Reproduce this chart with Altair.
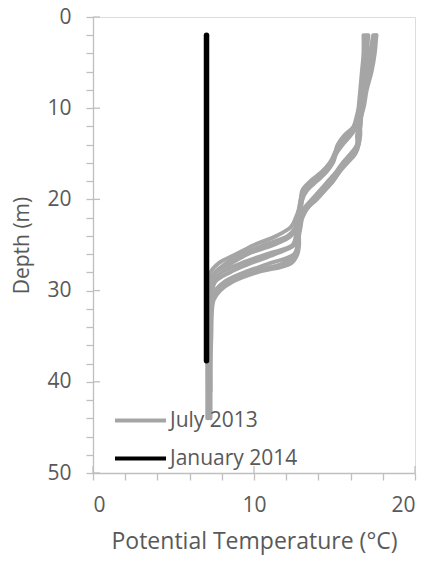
import altair as alt
import pandas as pd

# Depths (m) shared by the July 2013 profiles
depths = [2, 4, 6, 8, 10, 12, 13, 14, 15, 16, 17, 18, 19, 20, 21, 22, 23, 24, 25, 26,
          27, 28, 29, 30, 31, 32, 35, 38, 41, 44]

# July 2013 potential temperature profiles (°C); None = no data at that depth
july_1 = [17.6, 17.4, 17.2, 16.9, 16.6, 16.2, 15.6, 15.2, 15.0, 14.7, 14.2, 13.5, 13.0, 12.9, 12.8,
          12.6, 12.3, 11.4, 10.0, 8.9, 7.8, 7.3, 7.2, 7.15, 7.15, 7.1, 7.1, 7.1, None, None]
july_2 = [17.5, 17.3, 17.1, 16.9, 16.6, 16.3, 15.8, 15.3, 15.0, 14.8, 14.3, 13.7, 13.1, 12.9, 12.8,
          12.7, 12.6, 12.3, 11.2, 9.6, 8.6, 7.6, 7.3, 7.25, 7.2, 7.2, 7.15, 7.15, 7.15, None]
july_3 = [16.9, 16.9, 16.8, 16.7, 16.7, 16.6, 16.5, 16.5, 16.3, 15.8, 15.3, 14.9, 14.4, 13.9, 13.3,
          13.0, 12.8, 12.7, 12.5, 11.3, 9.8, 8.5, 7.6, 7.4, 7.35, 7.35, 7.3, 7.3, 7.3, 7.3]
july_4 = [17.0, 16.9, 16.8, 16.7, 16.6, 16.6, 16.5, 16.4, 16.1, 15.6, 15.2, 14.8, 14.2, 13.7, 13.2,
          12.9, 12.8, 12.7, 12.7, 12.5, 11.0, 9.4, 8.2, 7.6, 7.35, 7.3, 7.2, 7.2, 7.2, 7.2]
july_5 = [17.1, 17.0, 16.9, 16.8, 16.7, 16.6, 16.6, 16.5, 16.2, 15.7, 15.3, 14.9, 14.4, 13.8, 13.3,
          13.0, 12.9, 12.8, 12.8, 12.7, 12.3, 10.2, 8.7, 7.9, 7.5, 7.4, 7.35, 7.3, 7.3, None]
july_6 = [17.4, 17.2, 17.0, 16.8, 16.5, 16.2, 15.9, 15.4, 15.1, 14.9, 14.5, 13.9, 13.3, 13.0, 12.9,
          12.8, 12.7, 12.6, 12.4, 10.8, 9.2, 8.0, 7.4, 7.3, 7.25, 7.2, 7.2, 7.2, None, None]
july_7 = [16.8, 16.8, 16.7, 16.6, 16.5, 16.5, 16.4, 16.4, 16.0, 15.5, 15.1, 14.6, 14.1, 13.6, 13.1,
          12.8, 12.6, 12.1, 10.6, 9.3, 8.3, 7.6, 7.35, 7.3, 7.25, 7.2, 7.15, 7.1, 7.1, 7.1]
july_8 = [17.6, 17.5, 17.3, 17.0, 16.8, 16.4, 16.0, 15.5, 15.1, 14.8, 14.4, 13.8, 13.2, 13.0, 12.9,
          12.8, 12.8, 12.7, 12.7, 12.6, 11.8, 9.8, 8.3, 7.6, 7.4, 7.35, 7.3, 7.25, None, None]

# January 2014 profile
jan_depths = [2, 10, 20, 30, 37.7]
jan_temps = [7.05, 7.05, 7.05, 7.05, 7.05]

# Axis ticks
x_ticks = [0, 2, 4, 6, 8, 10, 12, 14, 16, 18, 20]
y_ticks = [0, 2, 4, 6, 8, 10, 12, 14, 16, 18, 20, 22, 24, 26, 28, 30, 32, 34, 36, 38, 40,
           42, 44, 46, 48, 50]
x_major = [0, 10, 20]
y_major = [0, 10, 20, 30, 40, 50]

series_names = ["July 2013", "January 2014"]
series_colors = ["#a5a5a5", "#000000"]

rows = []
for i, prof in enumerate([july_1, july_2, july_3, july_4, july_5, july_6, july_7, july_8]):
    for d, t in zip(depths, prof):
        if t is not None:
            rows.append({"series": "July 2013", "profile": f"J{i+1}", "depth": d, "temp": t})
july_df = pd.DataFrame(rows)
jan_df = pd.DataFrame({"series": "January 2014", "profile": "W1",
                       "depth": jan_depths, "temp": jan_temps})

AXC = "#bfbfbf"
TXT = "#595959"
FONT = "Open Sans"
FS = 21

xscale = alt.Scale(domain=[0, 20], nice=False, zero=False)
yscale = alt.Scale(domain=[0, 50], nice=False, zero=False, reverse=True)

color = alt.Color("series:N", scale=alt.Scale(domain=series_names, range=series_colors),
                  sort=series_names,
                  legend=alt.Legend(title=None, orient="none", legendX=20, legendY=376,
                                    symbolType="stroke", symbolSize=2601,
                                    symbolStrokeWidth=4, labelFont=FONT, labelFontSize=FS,
                                    labelColor=TXT, labelOffset=2, rowPadding=0))

xaxis = alt.Axis(values=x_ticks,
                 labelExpr="indexof([0, 10, 20], datum.value) >= 0 ? datum.label : ''",
                 labelOverlap=False,
                 title="Potential Temperature (°C)", grid=False, tickSize=7,
                 labelPadding=14, titlePadding=15, domainColor=AXC, tickColor=AXC,
                 domainWidth=1.3, tickWidth=1.3, labelColor=TXT, titleColor=TXT,
                 labelFont=FONT, titleFont=FONT, labelFontSize=FS, titleFontSize=23,
                 titleFontWeight="normal")
yaxis = alt.Axis(values=y_ticks,
                 labelExpr="indexof([0, 10, 20, 30, 40, 50], datum.value) >= 0 ? datum.label : ''",
                 labelOverlap=False,
                 title="Depth (m)", grid=False, tickSize=7, labelPadding=15,
                 titlePadding=14, domainColor=AXC, tickColor=AXC,
                 domainWidth=1.3, tickWidth=1.3, labelColor=TXT, titleColor=TXT,
                 labelFont=FONT, titleFont=FONT, labelFontSize=FS, titleFontSize=FS,
                 titleFontWeight="normal")

july = alt.Chart(july_df).mark_line(strokeWidth=4, strokeCap="round", strokeJoin="round",
                                    interpolate="catmull-rom").encode(
    x=alt.X("temp:Q", scale=xscale, axis=xaxis, title="Potential Temperature (°C)"),
    y=alt.Y("depth:Q", scale=yscale, axis=yaxis, title="Depth (m)"),
    color=color,
    detail="profile:N",
    order="depth:Q",
)
jan = alt.Chart(jan_df).mark_line(strokeWidth=5.5, strokeCap="round").encode(
    x=alt.X("temp:Q", scale=xscale, axis=xaxis, title="Potential Temperature (°C)"),
    y=alt.Y("depth:Q", scale=yscale, axis=yaxis, title="Depth (m)"),
    color=color,
    order="depth:Q",
)

# inner halves of the major ticks (crossing tick marks)
ymaj = pd.DataFrame({"depth": y_major})
xmaj = pd.DataFrame({"temp": x_major})
ytick_in = alt.Chart(ymaj).mark_rule(color=AXC, strokeWidth=1.3).encode(
    y=alt.Y("depth:Q", scale=yscale, axis=yaxis, title="Depth (m)"),
    x=alt.value(0), x2=alt.value(7))
xtick_in = alt.Chart(xmaj).mark_rule(color=AXC, strokeWidth=1.3).encode(
    x=alt.X("temp:Q", scale=xscale, axis=xaxis, title="Potential Temperature (°C)"),
    y=alt.value(449), y2=alt.value(456))

chart = alt.layer(july, jan, ytick_in, xtick_in).properties(
    width=322, height=456,
    autosize=alt.AutoSizeParams(type="none"),
    padding={"left": 93, "top": 17, "right": 21, "bottom": 90},
).configure_view(stroke=None).configure(background="white")

chart.save("out.html", embed_options={"renderer": "svg", "actions": False})
